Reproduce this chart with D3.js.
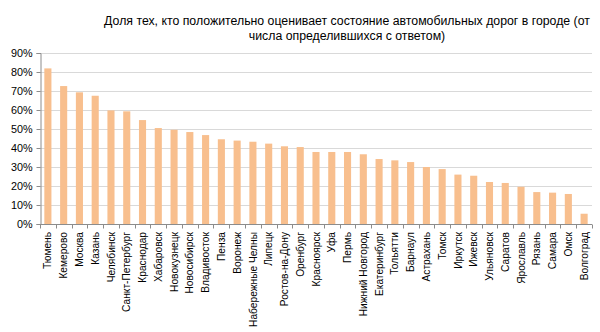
<!DOCTYPE html>
<html>
<head>
<meta charset="utf-8">
<script src="https://cdn.jsdelivr.net/npm/d3@7"></script>
<style>
  html, body { margin: 0; padding: 0; background: #fff; }
  svg { display: block; }
  text { font-family: "Liberation Sans", Arial, sans-serif; fill: #000; }
</style>
</head>
<body>
<svg id="chart" width="600" height="332"></svg>
<script>
// Share of respondents who rate city roads positively, by city
const cities = [
  "Тюмень", "Кемерово", "Москва", "Казань", "Челябинск", "Санкт-Петербург",
  "Краснодар", "Хабаровск", "Новокузнецк", "Новосибирск", "Владивосток", "Пенза",
  "Воронеж", "Набережные Челны", "Липецк", "Ростов-на-Дону", "Оренбург", "Красноярск",
  "Уфа", "Пермь", "Нижний Новгород", "Екатеринбург", "Тольятти", "Барнаул",
  "Астрахань", "Томск", "Иркутск", "Ижевск", "Ульяновск", "Саратов",
  "Ярославль", "Рязань", "Самара", "Омск", "Волгоград"
];
const shares = [
  0.819, 0.726, 0.693, 0.675, 0.598, 0.593,
  0.547, 0.505, 0.496, 0.484, 0.468, 0.446,
  0.439, 0.433, 0.423, 0.409, 0.405, 0.379,
  0.379, 0.379, 0.367, 0.342, 0.335, 0.326,
  0.300, 0.289, 0.260, 0.254, 0.221, 0.216,
  0.196, 0.168, 0.165, 0.158, 0.054
];
const yTicks = [0, 0.1, 0.2, 0.3, 0.4, 0.5, 0.6, 0.7, 0.8, 0.9];
const titleLines = [
  "Доля тех, кто положительно оценивает состояние автомобильных дорог в городе (от",
  "числа определившихся с ответом)"
];

const svg = d3.select("#chart");
const plot = { left: 40, right: 592, top: 53, bottom: 224 };

const x = d3.scaleBand().domain(cities).range([plot.left, plot.right]).paddingInner(0.55).paddingOuter(0.275);
const y = d3.scaleLinear().domain([0, 0.9]).range([plot.bottom, plot.top]);

// Title
svg.append("g").selectAll("text").data(titleLines).join("text")
  .attr("x", 347).attr("y", (d, i) => 25 + i * 15)
  .attr("text-anchor", "middle").attr("font-size", 12.3)
  .text(d => d);

// Horizontal gridlines
svg.append("g").selectAll("line").data(yTicks.filter(t => t > 0)).join("line")
  .attr("x1", plot.left).attr("x2", plot.right)
  .attr("y1", d => Math.round(y(d)) + 0.5).attr("y2", d => Math.round(y(d)) + 0.5)
  .attr("stroke", "#d9d9d9").attr("stroke-width", 1);

// Bars
svg.append("g").selectAll("rect").data(cities).join("rect")
  .attr("x", d => x(d))
  .attr("width", x.bandwidth())
  .attr("y", (d, i) => y(shares[i]))
  .attr("height", (d, i) => y(0) - y(shares[i]))
  .attr("fill", "#f8bf8e");

// Y axis
const yAxis = svg.append("g").attr("transform", `translate(${plot.left + 0.5},0)`)
  .call(d3.axisLeft(y).tickValues(yTicks).tickFormat(d3.format(".0%")).tickSize(4).tickPadding(4));
yAxis.select(".domain").attr("stroke", "#8c8c8c");
yAxis.selectAll(".tick line").attr("stroke", "#8c8c8c");
yAxis.selectAll("text").attr("font-size", 10.8).attr("font-family", "Liberation Sans, Arial, sans-serif");

// X axis: ticks at category boundaries
const xAxisG = svg.append("g").attr("transform", `translate(0,${plot.bottom + 0.5})`);
xAxisG.append("line").attr("x1", plot.left).attr("x2", plot.right).attr("stroke", "#8c8c8c");
const step = x.step();
const bounds = d3.range(cities.length + 1).map(i => x(cities[0]) - x.paddingOuter() * step + i * step);
xAxisG.selectAll("line.tk").data(bounds).join("line").attr("class", "tk")
  .attr("x1", d => Math.round(d) + 0.5).attr("x2", d => Math.round(d) + 0.5)
  .attr("y1", 0).attr("y2", 4).attr("stroke", "#8c8c8c");
xAxisG.selectAll("text.lbl").data(cities).join("text").attr("class", "lbl")
  .attr("transform", d => `translate(${x(d) + x.bandwidth() / 2 + 3.6},7.5) rotate(-90)`)
  .attr("text-anchor", "end").attr("font-size", 10.2)
  .text(d => d);
</script>
</body>
</html>
